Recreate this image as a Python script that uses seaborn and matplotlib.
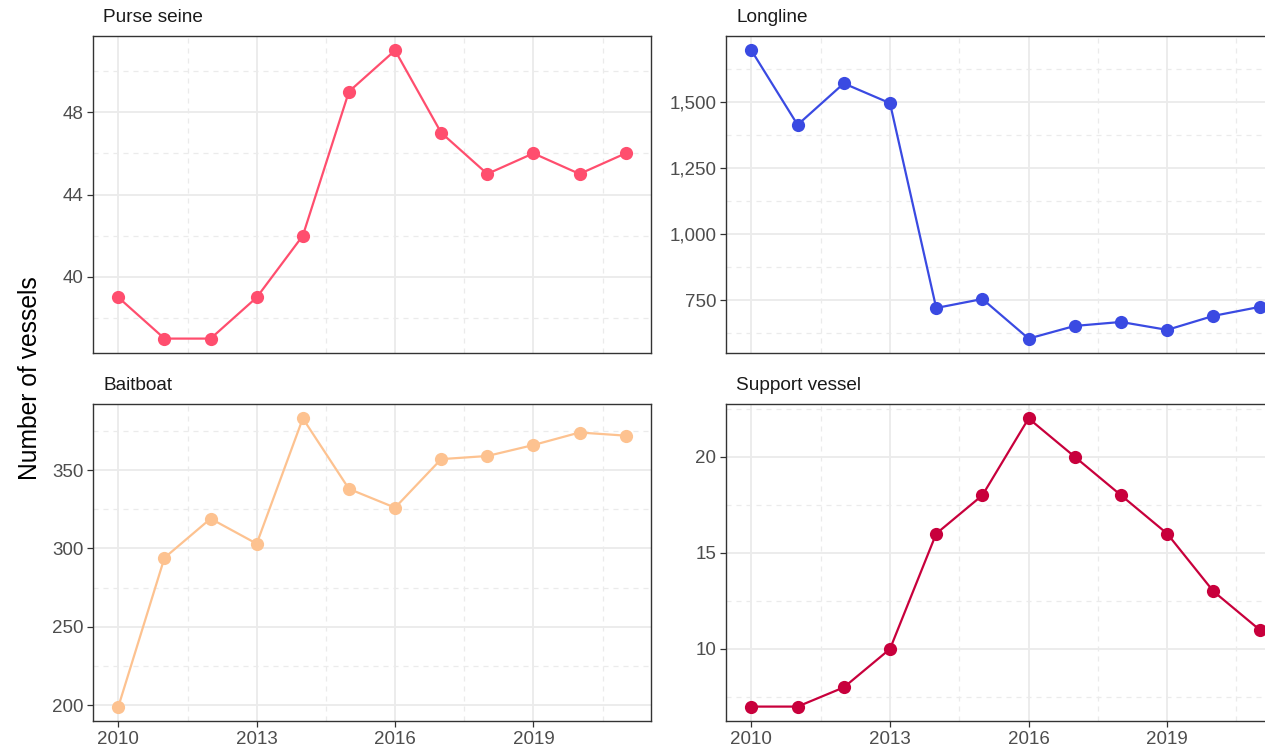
import matplotlib
matplotlib.use("Agg")
import matplotlib.pyplot as plt
import matplotlib.ticker as mticker
import seaborn as sns
import pandas as pd

# Data
years = list(range(2010, 2022))
purse_seine = [39, 37, 37, 39, 42, 49, 51, 47, 45, 46, 45, 46]
longline = [1696, 1414, 1571, 1496, 720, 754, 604, 652, 667, 637, 690, 724]
baitboat = [199, 294, 319, 303, 383, 338, 326, 357, 359, 366, 374, 372]
support_vessel = [7, 7, 8, 10, 16, 18, 22, 20, 18, 16, 13, 11]

gears = ["Purse seine", "Longline", "Baitboat", "Support vessel"]
series = [purse_seine, longline, baitboat, support_vessel]
colors = ["#FF4E6E", "#3A4AE2", "#FDC290", "#C8003C"]
y_major = [[40, 44, 48], [750, 1000, 1250, 1500], [200, 250, 300, 350], [10, 15, 20]]
x_major = [2010, 2013, 2016, 2019]

df = pd.DataFrame({
    "gear": [g for g, s in zip(gears, series) for _ in s],
    "year": years * len(gears),
    "vessels": [v for s in series for v in s],
})

sns.set_theme(style="white")
plt.rcParams["font.family"] = ["Liberation Sans", "DejaVu Sans"]

W, H = 1265, 751
fig = plt.figure(figsize=(W / 100, H / 100), dpi=100)

# panel boxes in pixels: (left, top, right, bottom); the right column runs off the image
boxes = [(93, 36, 651, 353), (726, 36, 1285, 353),
         (93, 404, 651, 721), (726, 404, 1285, 721)]

for i, (gear, color, box, majors) in enumerate(zip(gears, colors, boxes, y_major)):
    l, t, r, b = box
    ax = fig.add_axes([l / W, 1 - b / H, (r - l) / W, (b - t) / H])
    sub = df[df["gear"] == gear]

    # ggplot-like limits: 5% expansion
    step = majors[1] - majors[0]
    ymin, ymax = sub["vessels"].min(), sub["vessels"].max()
    pad = (ymax - ymin) * 0.05
    ax.set_ylim(ymin - pad, ymax + pad)
    ax.set_xlim(2010 - 0.55, 2021 + 0.55)
    ax.set_yticks(majors)
    ax.yaxis.set_minor_locator(mticker.MultipleLocator(step / 2))
    ax.set_xticks(x_major)
    ax.xaxis.set_minor_locator(mticker.FixedLocator([2011.5, 2014.5, 2017.5, 2020.5]))
    ax.grid(which="major", color="#EBEBEB", linewidth=1.3, linestyle="-")
    ax.grid(which="minor", color="#EBEBEB", linewidth=0.9, linestyle=(0, (4, 4)))
    ax.set_axisbelow(True)

    sns.lineplot(data=sub, x="year", y="vessels", ax=ax, color=color,
                 linewidth=1.6, marker="o", markersize=9.5, markeredgewidth=0)

    ax.set_xlabel("")
    ax.set_ylabel("")
    for s in ax.spines.values():
        s.set_color("#333333")
        s.set_linewidth(1.0)

    ax.tick_params(axis="y", which="major", length=4, width=0.9, color="#333333",
                   labelsize=13.5, labelcolor="#4D4D4D", pad=3, left=True)
    ax.tick_params(axis="both", which="minor", length=0)
    if i >= 2:
        ax.tick_params(axis="x", which="major", length=4, width=0.9, color="#333333",
                       labelsize=13.5, labelcolor="#4D4D4D", pad=3, bottom=True)
    else:
        ax.tick_params(axis="x", which="major", length=0, labelbottom=False)

    if gear == "Longline":
        ax.yaxis.set_major_formatter(mticker.FuncFormatter(lambda v, p: f"{v:,.0f}"))
    else:
        ax.yaxis.set_major_formatter(mticker.FuncFormatter(lambda v, p: f"{v:.0f}"))

    ax.text(10 / (r - l), 1 + 18 / (b - t), gear, transform=ax.transAxes,
            ha="left", va="center", fontsize=13.7, color="#1A1A1A")

fig.text(30 / W, 1 - 378 / H, "Number of vessels", rotation=90,
         ha="center", va="center", fontsize=17.7, color="black")

fig.savefig("out.png", dpi=100)
